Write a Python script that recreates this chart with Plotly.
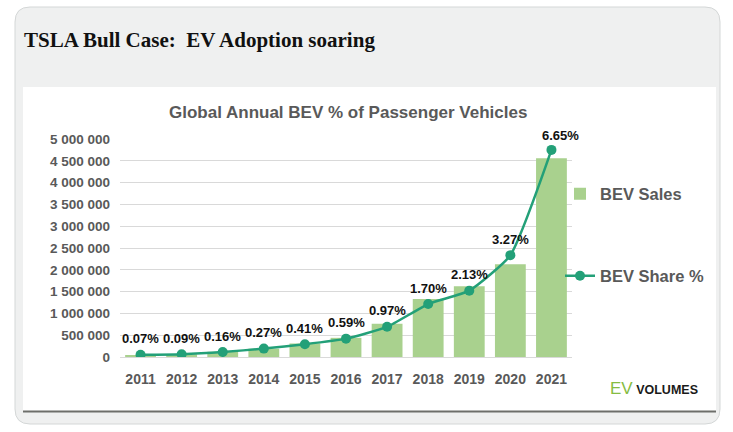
import plotly.graph_objects as go

# ---- data ----
years = ["2011", "2012", "2013", "2014", "2015", "2016", "2017", "2018", "2019", "2020", "2021"]
bev_sales = [40000, 60000, 120000, 190000, 310000, 440000, 760000, 1330000, 1620000, 2130000, 4560000]
bev_share = [0.07, 0.09, 0.16, 0.27, 0.41, 0.59, 0.97, 1.70, 2.13, 3.27, 6.65]
y_ticks = [0, 500000, 1000000, 1500000, 2000000, 2500000, 3000000, 3500000, 4000000, 4500000, 5000000]

# ---- geometry helpers (pixels -> paper) ----
W, H = 733, 432
ML, MR, MT, MB = 120, 161, 139, 75
PW, PH = W - ML - MR, H - MT - MB


def px(x):
    return (x - ML) / PW


def py(y):
    return (H - MB - y) / PH


def rounded_rect(x0, y0, x1, y1, r):
    X0, X1 = px(x0), px(x1)
    Y0, Y1 = py(y0), py(y1)  # Y0 top, Y1 bottom
    rx, ry = r / PW, r / PH
    return (f"M{X0+rx},{Y0} L{X1-rx},{Y0} Q{X1},{Y0} {X1},{Y0-ry} "
            f"L{X1},{Y1+ry} Q{X1},{Y1} {X1-rx},{Y1} "
            f"L{X0+rx},{Y1} Q{X0},{Y1} {X0},{Y1+ry} "
            f"L{X0},{Y0-ry} Q{X0},{Y0} {X0+rx},{Y0} Z")


SANS = "Liberation Sans, Arial, sans-serif"
GREY = "#595959"
BAR = "#a9d18e"
LINE = "#23a078"

fig = go.Figure()
fig.add_trace(go.Bar(
    x=years, y=bev_sales, name="BEV Sales", marker=dict(color=BAR, line=dict(width=0)),
    legend="legend", hoverinfo="skip",
))
fig.add_trace(go.Scatter(
    x=years, y=bev_share, name="BEV Share %", yaxis="y2", mode="lines+markers",
    line=dict(color=LINE, width=2.5, shape="spline", smoothing=0.5),
    marker=dict(color=LINE, size=10), legend="legend2", hoverinfo="skip",
))

shapes = [
    dict(type="path", path=rounded_rect(15, 7, 720, 424, 15), xref="paper", yref="paper",
         fillcolor="#eff0f0", line=dict(color="#d4d7d7", width=1), layer="below"),
    dict(type="rect", x0=px(23), x1=px(716), y0=py(411), y1=py(87), xref="paper", yref="paper",
         fillcolor="#ffffff", line=dict(width=0), layer="below"),
    dict(type="line", x0=px(23), x1=px(716), y0=py(411.5), y1=py(411.5), xref="paper", yref="paper",
         line=dict(color="#6d6e6a", width=2), layer="below"),
]

fig.update_layout(
    width=W, height=H, autosize=False,
    margin=dict(l=ML, r=MR, t=MT, b=MB, pad=0),
    paper_bgcolor="#ffffff", plot_bgcolor="rgba(0,0,0,0)",
    separators=". ",
    bargap=0.25,
    xaxis=dict(type="category", range=[-0.5, 10.5], showgrid=False, showline=True,
               linecolor="#d9d9d9", linewidth=1, ticks="", ticklabelstandoff=9,
               tickfont=dict(family=SANS, size=14, color=GREY, weight="bold"), fixedrange=True),
    yaxis=dict(range=[0, 5000000], tickvals=y_ticks, tickformat=",d", showgrid=True,
               gridcolor="#d9d9d9", gridwidth=1, zeroline=False, showline=False, ticks="",
               ticklabelstandoff=9,
               tickfont=dict(family=SANS, size=13.5, color=GREY, weight="bold"), fixedrange=True),
    yaxis2=dict(range=[0, 7], overlaying="y", side="right", visible=True, showgrid=False,
                showticklabels=False, ticks="", showline=False, zeroline=False, fixedrange=True),
    showlegend=True,
    legend=dict(x=px(560), y=py(194), xanchor="left", yanchor="middle", bgcolor="rgba(0,0,0,0)",
                font=dict(family=SANS, size=16.5, color=GREY, weight="bold")),
    legend2=dict(x=px(560), y=py(276), xanchor="left", yanchor="middle", bgcolor="rgba(0,0,0,0)",
                 font=dict(family=SANS, size=16.5, color=GREY, weight="bold")),
    shapes=shapes,
)

# data labels
for i, (yr, s) in enumerate(zip(years, bev_share)):
    last = i == len(years) - 1
    fig.add_annotation(
        x=i, y=s, xref="x", yref="y2", text=f"{s:.2f}%", showarrow=False,
        yshift=14 if last else 16, xshift=9 if last else 0, yanchor="middle", xanchor="center",
        font=dict(family=SANS, size=13, color="#111111"),
    )

fig.add_annotation(
    text="<b>TSLA Bull Case:  EV Adoption soaring</b>", x=px(22), y=py(40), xref="paper", yref="paper",
    xanchor="left", yanchor="middle", showarrow=False,
    font=dict(family="Liberation Serif, Times New Roman, serif", size=21, color="#111111"))
fig.add_annotation(
    text="<b>Global Annual BEV % of Passenger Vehicles</b>", x=px(347.5), y=py(112), xref="paper", yref="paper",
    xanchor="center", yanchor="middle", showarrow=False,
    font=dict(family=SANS, size=17, color=GREY))
fig.add_annotation(
    text="<span style='font-size:17px;color:#86bc42'>EV</span>"
         "<span style='font-size:12.5px;color:#1a1a1a'><b> VOLUMES</b></span>",
    x=px(608), y=py(400), xref="paper", yref="paper", xanchor="left", yanchor="bottom",
    showarrow=False, font=dict(family=SANS, size=13, color="#1a1a1a"))

# bold data labels via markup
for ann in fig.layout.annotations:
    if ann.xref == "x" and ann.text and not ann.text.startswith("<b>"):
        ann.text = f"<b>{ann.text}</b>"

fig.write_html("out.html")
